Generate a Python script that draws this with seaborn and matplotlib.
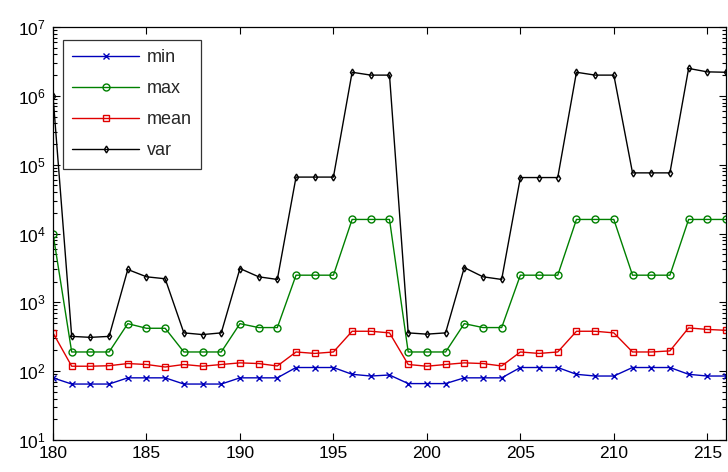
import matplotlib
matplotlib.use("Agg")
import matplotlib.pyplot as plt
import seaborn as sns
import pandas as pd
from matplotlib.ticker import LogLocator, NullFormatter

# Sample index (one point per step)
steps = list(range(180, 217))

min_vals = [80, 65, 65, 65, 80, 80, 80, 65, 65, 65, 80, 80, 80,
            113, 113, 113, 90, 85, 88, 66, 66, 66, 80, 80, 80,
            113, 113, 113, 90, 85, 85, 113, 113, 113, 90, 85, 85]

max_vals = [10000, 190, 190, 190, 490, 420, 420, 190, 190, 190, 490, 430, 430,
            2480, 2480, 2480, 16000, 16000, 16000, 190, 190, 190, 490, 430, 430,
            2480, 2480, 2480, 16000, 16000, 16000, 2480, 2480, 2480, 16000, 16000, 16000]

mean_vals = [360, 118, 118, 120, 129, 125, 115, 125, 118, 125, 132, 129, 119,
             190, 181, 190, 380, 380, 360, 125, 118, 125, 132, 129, 119,
             190, 181, 190, 380, 380, 360, 190, 190, 197, 425, 404, 392]

var_vals = [1.0e6, 320, 310, 320, 3000, 2350, 2200, 360, 340, 360, 3100, 2350, 2150,
            66000, 66000, 66000, 2.2e6, 2.0e6, 2.0e6, 360, 345, 360, 3200, 2350, 2150,
            65000, 65000, 65000, 2.2e6, 2.0e6, 2.0e6, 76000, 76000, 76000, 2.5e6, 2.23e6, 2.2e6]

x_ticks = [180, 185, 190, 195, 200, 205, 210, 215]
y_exponents = [1, 2, 3, 4, 5, 6, 7]

series_names = ["min", "max", "mean", "var"]
series_colors = ["#0000bb", "#008000", "#e00000", "#000000"]
series_markers = ["x", "o", "s", "d"]

sns.set_theme(style="white")
plt.rcParams["font.family"] = ["Liberation Sans", "DejaVu Sans"]
plt.rcParams["mathtext.fontset"] = "custom"
plt.rcParams["mathtext.rm"] = "Liberation Sans"
plt.rcParams["mathtext.it"] = "Liberation Sans"

df = pd.DataFrame({"step": steps, "min": min_vals, "max": max_vals,
                   "mean": mean_vals, "var": var_vals})

fig = plt.figure(figsize=(7.28, 4.72), dpi=100)
ax = fig.add_axes([53 / 728, 32 / 472, 673 / 728, 413 / 472])

for name, color, mk in zip(series_names, series_colors, series_markers):
    sns.lineplot(data=df, x="step", y=name, ax=ax, color=color, marker=mk,
                 markersize=5 if mk != "d" else 3.5, markerfacecolor="none",
                 markeredgecolor=color, markeredgewidth=1.0, linewidth=1.0,
                 label=name)

ax.set_yscale("log")
ax.set_xlim(180, 216)
ax.set_ylim(10, 1e7)
ax.set_xticks(x_ticks)
ax.set_xticklabels([str(t) for t in x_ticks])
ax.set_yticks([10.0 ** e for e in y_exponents])
ax.set_yticklabels([rf"$10^{{{e}}}$" for e in y_exponents])
ax.yaxis.set_minor_locator(LogLocator(base=10, subs=range(2, 10), numticks=20))
ax.yaxis.set_minor_formatter(NullFormatter())
ax.set_xlabel("")
ax.set_ylabel("")

ax.tick_params(which="both", direction="in", top=True, right=True,
               bottom=True, left=True, color="black")
ax.tick_params(which="major", length=5, width=0.8, labelsize=12.5, colors="black")
ax.tick_params(axis="x", which="major", pad=4.5)
ax.tick_params(axis="y", which="major", pad=5)
ax.tick_params(which="minor", length=3, width=0.8)
for sp in ax.spines.values():
    sp.set_color("black")
    sp.set_linewidth(0.9)

leg = ax.legend(loc="upper left", bbox_to_anchor=(0.015, 0.968), borderaxespad=0,
                fontsize=13, frameon=True, fancybox=False, edgecolor="black",
                handlelength=3.7, borderpad=0.5, labelspacing=0.78,
                handletextpad=0.45)
leg.get_frame().set_linewidth(0.9)

fig.savefig("out.png", dpi=100, facecolor="white")
